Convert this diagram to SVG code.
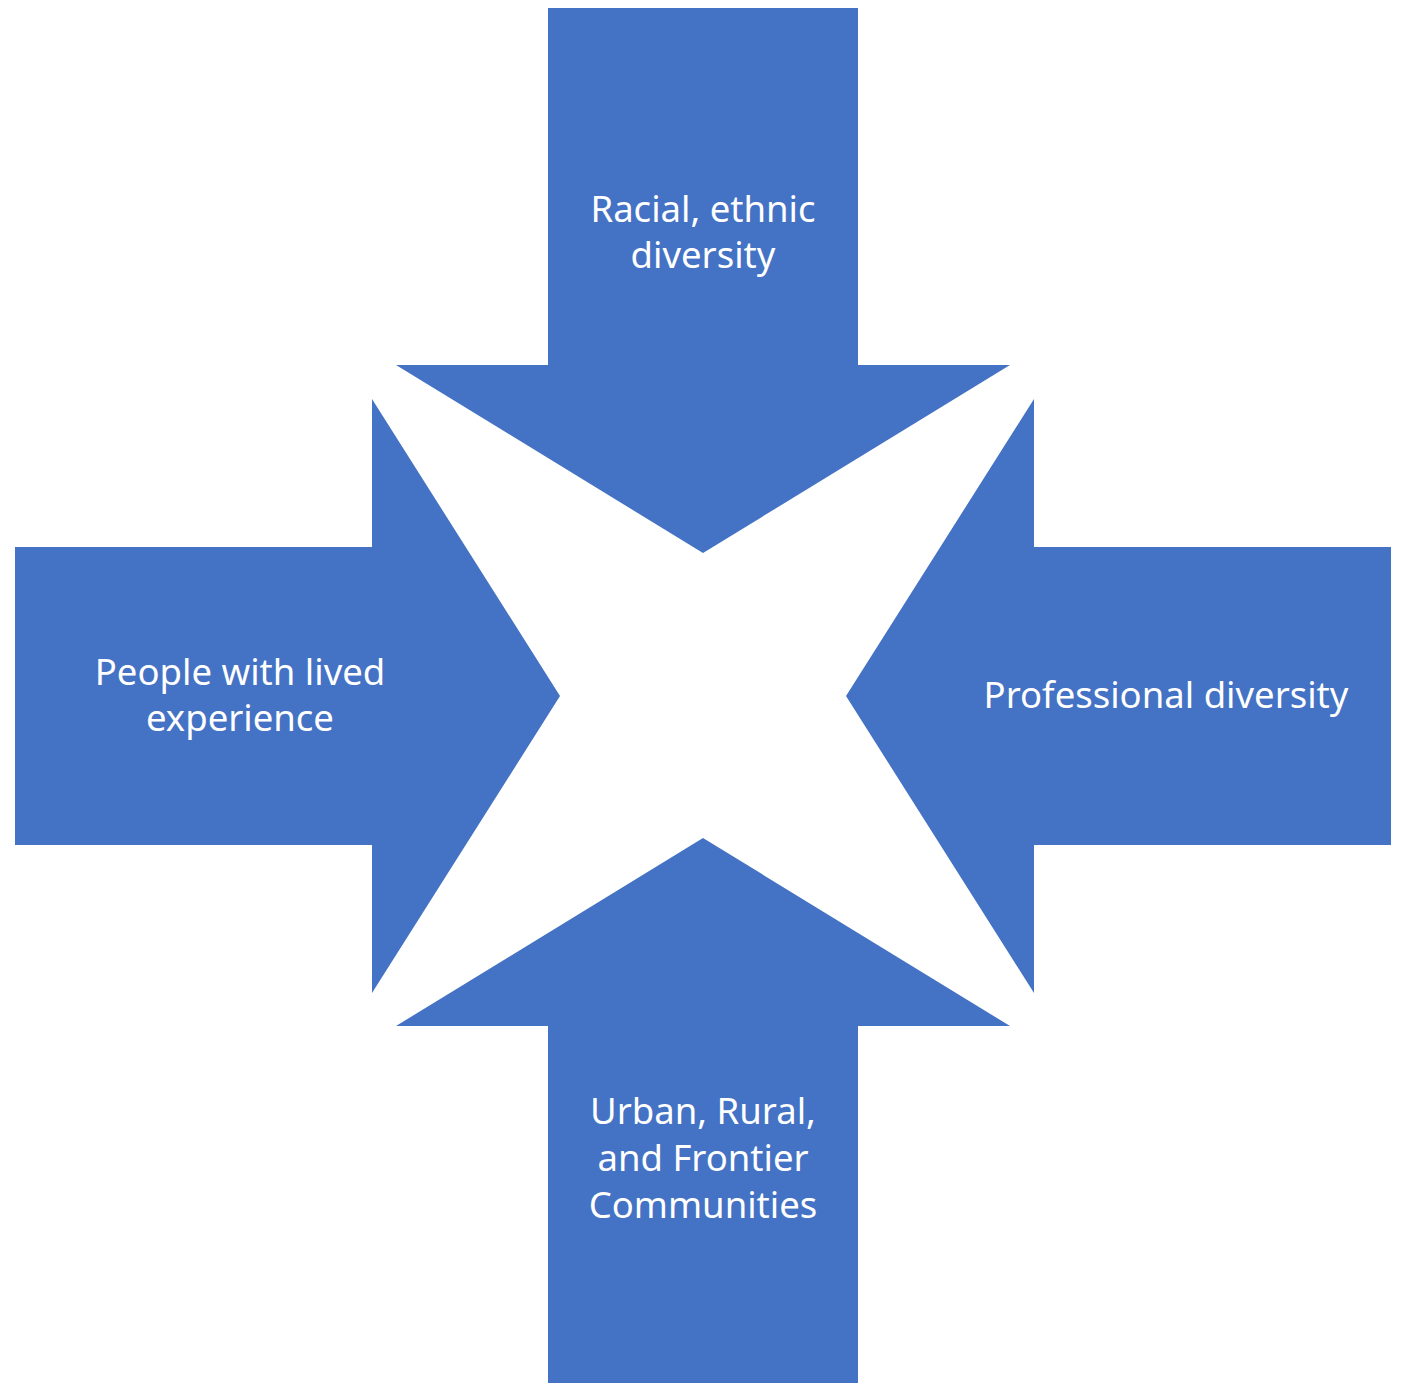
<svg xmlns="http://www.w3.org/2000/svg" width="1404" height="1383" viewBox="0 0 1404 1383">
<style>
.arrow{fill:#4472C4;}
.lbl{fill:#FFFFFF;font-family:"Noto Sans","Open Sans",sans-serif;font-size:36.5px;text-anchor:middle;}
</style>
<rect width="1404" height="1383" fill="#FFFFFF"/>
<g id="top">
<polygon class="arrow" points="548,8 858,8 858,365 1010,365 703,553 396,365 548,365"/>
<text class="lbl" x="703" y="222">Racial, ethnic</text>
<text class="lbl" x="703" y="268">diversity</text>
</g>
<g id="left">
<polygon class="arrow" points="15,547 372,547 372,399 560,696 372,993 372,845 15,845"/>
<text class="lbl" x="240" y="685">People with lived</text>
<text class="lbl" x="240" y="731">experience</text>
</g>
<g id="right">
<polygon class="arrow" points="1391,547 1034,547 1034,399 846,696 1034,993 1034,845 1391,845"/>
<text class="lbl" x="1166" y="708">Professional diversity</text>
</g>
<g id="bottom">
<polygon class="arrow" points="548,1383 858,1383 858,1026 1010,1026 703,838 396,1026 548,1026"/>
<text class="lbl" x="703" y="1124">Urban, Rural,</text>
<text class="lbl" x="703" y="1171">and Frontier</text>
<text class="lbl" x="703" y="1218">Communities</text>
</g>
<g id="connectors"></g>
</svg>
